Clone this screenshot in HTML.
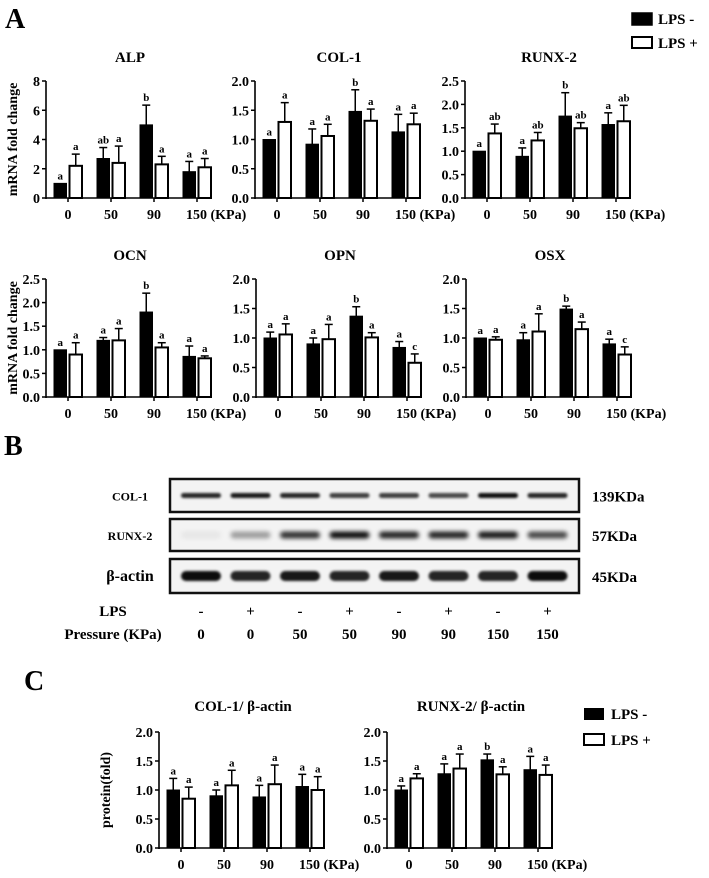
<!DOCTYPE html>
<html><head><meta charset="utf-8">
<style>
html,body{margin:0;padding:0;background:#fff;}
svg{display:block;font-family:"Liberation Serif",serif;}
</style></head>
<body>
<svg id="fig" width="709" height="878" viewBox="0 0 709 878" xmlns="http://www.w3.org/2000/svg">
<defs>
<filter id="blur1" x="-20%" y="-100%" width="140%" height="300%"><feGaussianBlur stdDeviation="1.3"/></filter>
<filter id="blur2" x="-20%" y="-100%" width="140%" height="300%"><feGaussianBlur stdDeviation="2.2"/></filter>
</defs>
<text x="5" y="28" font-size="28" font-weight="bold">A</text>
<text x="4" y="455" font-size="28" font-weight="bold">B</text>
<text x="24" y="690" font-size="28" font-weight="bold">C</text>
<g id="legendA">
<rect x="632" y="13" width="20" height="12" fill="#000" stroke="#000" stroke-width="1.5"/>
<text x="658" y="24" font-size="15" font-weight="bold">LPS -</text>
<rect x="632" y="37" width="20" height="11" fill="#fff" stroke="#000" stroke-width="2"/>
<text x="658" y="48" font-size="15" font-weight="bold">LPS +</text>
</g>
<g id="legendC">
<rect x="584" y="708" width="20" height="12" fill="#000"/>
<text x="611" y="719" font-size="15" font-weight="bold">LPS -</text>
<rect x="584" y="734" width="20" height="11" fill="#fff" stroke="#000" stroke-width="2"/>
<text x="611" y="745" font-size="15" font-weight="bold">LPS +</text>
</g>
<g id="charts"></g>
<g id="blot"></g>
</svg>
<script>
// ---------- chart data ----------
const categories = ["0", "50", "90", "150"];
const alpBlack = [1.0, 2.7, 5.0, 1.8];
const alpBlackErr = [0, 0.75, 1.35, 0.7];
const alpWhite = [2.2, 2.4, 2.3, 2.1];
const alpWhiteErr = [0.8, 1.15, 0.55, 0.6];
const alpBlackLetters = ["a", "ab", "b", "a"];
const alpWhiteLetters = ["a", "a", "a", "a"];
const alpTicks = ["0", "2", "4", "6", "8"];

const col1Black = [1.0, 0.92, 1.48, 1.13];
const col1BlackErr = [0, 0.26, 0.37, 0.3];
const col1White = [1.3, 1.06, 1.32, 1.26];
const col1WhiteErr = [0.33, 0.2, 0.2, 0.19];
const col1BlackLetters = ["a", "a", "b", "a"];
const col1WhiteLetters = ["a", "a", "a", "a"];

const runxBlack = [1.0, 0.89, 1.75, 1.57];
const runxBlackErr = [0, 0.18, 0.5, 0.25];
const runxWhite = [1.38, 1.23, 1.49, 1.64];
const runxWhiteErr = [0.2, 0.17, 0.12, 0.34];
const runxBlackLetters = ["a", "a", "b", "a"];
const runxWhiteLetters = ["ab", "ab", "ab", "ab"];

const ocnBlack = [1.0, 1.2, 1.8, 0.86];
const ocnBlackErr = [0, 0.06, 0.4, 0.22];
const ocnWhite = [0.9, 1.2, 1.05, 0.82];
const ocnWhiteErr = [0.25, 0.25, 0.1, 0.05];
const ocnBlackLetters = ["a", "a", "b", "a"];
const ocnWhiteLetters = ["a", "a", "a", "a"];

const opnBlack = [1.0, 0.9, 1.37, 0.84];
const opnBlackErr = [0.1, 0.1, 0.16, 0.1];
const opnWhite = [1.06, 0.98, 1.01, 0.58];
const opnWhiteErr = [0.18, 0.25, 0.08, 0.15];
const opnBlackLetters = ["a", "a", "b", "a"];
const opnWhiteLetters = ["a", "a", "a", "c"];

const osxBlack = [1.0, 0.97, 1.49, 0.9];
const osxBlackErr = [0, 0.12, 0.05, 0.08];
const osxWhite = [0.97, 1.11, 1.15, 0.72];
const osxWhiteErr = [0.05, 0.3, 0.12, 0.13];
const osxBlackLetters = ["a", "a", "b", "a"];
const osxWhiteLetters = ["a", "a", "a", "c"];

const pCol1Black = [1.0, 0.9, 0.88, 1.06];
const pCol1BlackErr = [0.2, 0.1, 0.2, 0.21];
const pCol1White = [0.85, 1.08, 1.1, 1.0];
const pCol1WhiteErr = [0.2, 0.26, 0.33, 0.23];
const pCol1BlackLetters = ["a", "a", "a", "a"];
const pCol1WhiteLetters = ["a", "a", "a", "a"];

const pRunxBlack = [1.0, 1.28, 1.52, 1.35];
const pRunxBlackErr = [0.07, 0.17, 0.1, 0.23];
const pRunxWhite = [1.2, 1.37, 1.27, 1.26];
const pRunxWhiteErr = [0.08, 0.25, 0.13, 0.17];
const pRunxBlackLetters = ["a", "a", "b", "a"];
const pRunxWhiteLetters = ["a", "a", "a", "a"];

const ticks20 = ["0.0", "0.5", "1.0", "1.5", "2.0"];
const ticks25 = ["0.0", "0.5", "1.0", "1.5", "2.0", "2.5"];

// blot data
const lpsLabels = ["-", "+", "-", "+", "-", "+", "-", "+"];
const pressureLabels = ["0", "0", "50", "50", "90", "90", "150", "150"];
const col1Bands = [0.85, 0.9, 0.85, 0.75, 0.75, 0.7, 0.95, 0.85];
const runxBands = [0.05, 0.35, 0.8, 0.95, 0.85, 0.85, 0.9, 0.7];
const actinBands = [0.95, 0.85, 0.9, 0.85, 0.9, 0.85, 0.85, 0.95];

const NS = "http://www.w3.org/2000/svg";
function mk(tag, attrs, parent) {
  const e = document.createElementNS(NS, tag);
  for (const k in attrs) e.setAttribute(k, attrs[k]);
  parent.appendChild(e);
  return e;
}
const chartsG = document.getElementById("charts");

function drawChart(cfg) {
  const g = mk("g", {}, chartsG);
  
  
  const x0 = cfg.x, top = cfg.top, bot = cfg.bottom, xEnd = cfg.x + 162;
  const maxV = parseFloat(cfg.ticks[cfg.ticks.length - 1]);
  const yS = v => bot - (v / maxV) * (bot - top);
  const xS = i => x0 + 22 + i * 43;
  const t = mk("text", {x: x0 + 84, y: cfg.titleY || (top - 19), "font-size": 15, "font-weight": "bold", "text-anchor": "middle"}, g);
  t.textContent = cfg.title;
  
  
  const sets = [[cfg.black, cfg.blackErr, cfg.blackLetters, "#000", -1], [cfg.white, cfg.whiteErr, cfg.whiteLetters, "#fff", 1]];
  sets.forEach((s, si) => {
    s[0].forEach((v, i) => {
      const cx = xS(i);
      const bx = s[4] < 0 ? cx - 14 : cx + 1.5;
      const bw = 12.5;
      const yTop = yS(v), yErr = yS(v + s[1][i]);
      if (s[1][i] > 0) {
        const ex = bx + bw / 2;
        const l = mk("line", {x1: ex, x2: ex, y1: yErr, y2: yTop, stroke: "#000", "stroke-width": 1.5}, g);
        
        
        mk("line", {x1: ex - 4, x2: ex + 4, y1: yErr, y2: yErr, stroke: "#000", "stroke-width": 1.5}, g);
      }
      const r = mk("rect", {x: bx, y: yTop, width: bw, height: bot - yTop, fill: s[3], stroke: "#000", "stroke-width": si ? 2 : 1}, g);
      
      
      const lt = mk("text", {x: bx + bw / 2, y: yErr - 4, "font-size": 11, "font-weight": "bold", "text-anchor": "middle"}, g);
      lt.textContent = s[2][i];
      
      
    });
  });
  const ya = mk("line", {x1: x0, x2: x0, y1: top, y2: bot + 1, stroke: "#000", "stroke-width": 1.6}, g);
  
  
  const xa = mk("line", {x1: x0, x2: xEnd, y1: bot, y2: bot, stroke: "#000", "stroke-width": 1.6}, g);
  
  
  cfg.ticks.forEach(tk => {
    const y = yS(parseFloat(tk));
    mk("line", {x1: x0 - 4, x2: x0, y1: y, y2: y, stroke: "#000", "stroke-width": 1.5}, g);
    const tl = mk("text", {x: x0 - 6, y: y + 5, "font-size": 14, "font-weight": "bold", "text-anchor": "end"}, g);
    tl.textContent = tk;
    
    
  });
  categories.forEach((c, i) => {
    const cx = xS(i);
    mk("line", {x1: cx, x2: cx, y1: bot, y2: bot + 4, stroke: "#000", "stroke-width": 1.5}, g);
    const cl = mk("text", {x: cx, y: bot + 21, "font-size": 14, "font-weight": "bold", "text-anchor": i === 3 ? "start" : "middle"}, g);
    if (i === 3) cl.setAttribute("x", cx - 11);
    cl.textContent = i === 3 ? c + " (KPa)" : c;
    
    
  });
  if (cfg.ylabel) {
    const yl = mk("text", {x: 0, y: 0, "font-size": 14, "font-weight": "bold", "text-anchor": "middle", transform: "translate(" + cfg.ylabelX + "," + ((top + bot) / 2) + ") rotate(-90)"}, g);
    yl.textContent = cfg.ylabel;
    
    
  }
}

drawChart({name: "alp", title: "ALP", x: 46, top: 81, bottom: 198, ticks: alpTicks, black: alpBlack, blackErr: alpBlackErr, white: alpWhite, whiteErr: alpWhiteErr, blackLetters: alpBlackLetters, whiteLetters: alpWhiteLetters, ylabel: "mRNA fold change", ylabelX: 17});
drawChart({name: "col1", title: "COL-1", x: 255, top: 81, bottom: 198, ticks: ticks20, black: col1Black, blackErr: col1BlackErr, white: col1White, whiteErr: col1WhiteErr, blackLetters: col1BlackLetters, whiteLetters: col1WhiteLetters});
drawChart({name: "runx2", title: "RUNX-2", x: 465, top: 81, bottom: 198, ticks: ticks25, black: runxBlack, blackErr: runxBlackErr, white: runxWhite, whiteErr: runxWhiteErr, blackLetters: runxBlackLetters, whiteLetters: runxWhiteLetters});
drawChart({name: "ocn", title: "OCN", x: 46, top: 279, bottom: 397, ticks: ticks25, black: ocnBlack, blackErr: ocnBlackErr, white: ocnWhite, whiteErr: ocnWhiteErr, blackLetters: ocnBlackLetters, whiteLetters: ocnWhiteLetters, ylabel: "mRNA fold change", ylabelX: 17});
drawChart({name: "opn", title: "OPN", x: 256, top: 279, bottom: 397, ticks: ticks20, black: opnBlack, blackErr: opnBlackErr, white: opnWhite, whiteErr: opnWhiteErr, blackLetters: opnBlackLetters, whiteLetters: opnWhiteLetters});
drawChart({name: "osx", title: "OSX", x: 466, top: 279, bottom: 397, ticks: ticks20, black: osxBlack, blackErr: osxBlackErr, white: osxWhite, whiteErr: osxWhiteErr, blackLetters: osxBlackLetters, whiteLetters: osxWhiteLetters});
drawChart({name: "protein-col1", title: "COL-1/ β-actin", x: 159, top: 732, bottom: 848, titleY: 711, ticks: ticks20, black: pCol1Black, blackErr: pCol1BlackErr, white: pCol1White, whiteErr: pCol1WhiteErr, blackLetters: pCol1BlackLetters, whiteLetters: pCol1WhiteLetters, ylabel: "protein(fold)", ylabelX: 110});
drawChart({name: "protein-runx2", title: "RUNX-2/ β-actin", x: 387, top: 732, bottom: 848, titleY: 711, ticks: ticks20, black: pRunxBlack, blackErr: pRunxBlackErr, white: pRunxWhite, whiteErr: pRunxWhiteErr, blackLetters: pRunxBlackLetters, whiteLetters: pRunxWhiteLetters});

// ---------- western blot ----------
const blotG = document.getElementById("blot");
const laneX = i => 201 + i * 49.5;
const rows = [
  {name: "col1", label: "COL-1", kda: "139KDa", y1: 479, y2: 512, bands: col1Bands, th: 5, bold: false, blur: "blur1"},
  {name: "runx2", label: "RUNX-2", kda: "57KDa", y1: 519, y2: 551, bands: runxBands, th: 7, bold: false, blur: "blur2"},
  {name: "beta-actin", label: "β-actin", kda: "45KDa", y1: 559, y2: 593, bands: actinBands, th: 10, bold: true, blur: "blur1"}
];
rows.forEach(r => {
  const g = mk("g", {}, blotG);
  
  
  const box = mk("rect", {x: 170, y: r.y1, width: 409, height: r.y2 - r.y1, fill: "#f3f3f3", stroke: "#111", "stroke-width": 2.5}, g);
  
  
  const cy = (r.y1 + r.y2) / 2;
  r.bands.forEach((v, i) => {
    const b = mk("rect", {x: laneX(i) - 20, y: cy - r.th / 2, width: 40, height: r.th, rx: r.th / 2, fill: "#000", "fill-opacity": v, filter: "url(#" + r.blur + ")"}, g);
    
    
  });
  const lab = mk("text", {x: 130, y: cy + 5, "font-size": r.bold ? 16 : 12, "font-weight": "bold", "text-anchor": "middle"}, g);
  lab.textContent = r.label;
  
  
  const kd = mk("text", {x: 592, y: cy + 6, "font-size": 15, "font-weight": "bold"}, g);
  kd.textContent = r.kda;
  
  
});
const lpsT = mk("text", {x: 113, y: 616, "font-size": 15, "font-weight": "bold", "text-anchor": "middle"}, blotG);
lpsT.textContent = "LPS";


const prT = mk("text", {x: 113, y: 639, "font-size": 15, "font-weight": "bold", "text-anchor": "middle"}, blotG);
prT.textContent = "Pressure (KPa)";


lpsLabels.forEach((l, i) => {
  const t = mk("text", {x: laneX(i), y: 616, "font-size": 15, "font-weight": "bold", "text-anchor": "middle"}, blotG);
  t.textContent = l;
  
  
});
pressureLabels.forEach((l, i) => {
  const t = mk("text", {x: laneX(i), y: 639, "font-size": 15, "font-weight": "bold", "text-anchor": "middle"}, blotG);
  t.textContent = l;
  
  
});
</script>
</body></html>
